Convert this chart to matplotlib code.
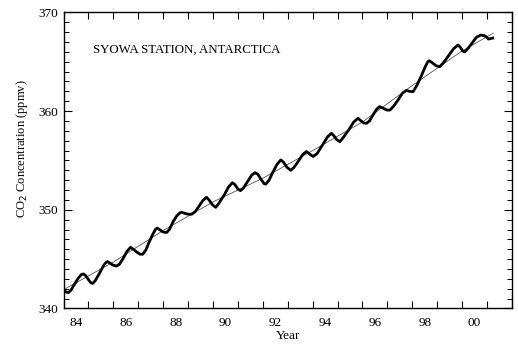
import numpy as np
import matplotlib
matplotlib.use("Agg")
import matplotlib.pyplot as plt
from matplotlib.ticker import MultipleLocator, FixedLocator

plt.rcParams['font.family'] = ['Liberation Serif', 'DejaVu Serif']

# record (decimal year, ppmv)
years = [1984.00, 1984.08, 1984.19, 1984.30, 1984.45, 1984.60, 1984.72, 1984.80,
         1984.90, 1985.02, 1985.10, 1985.17, 1985.27, 1985.45, 1985.62, 1985.72,
         1985.77, 1985.86, 1985.98, 1986.13, 1986.25, 1986.40, 1986.55, 1986.69,
         1986.80, 1986.95, 1987.07, 1987.18, 1987.30, 1987.45, 1987.60, 1987.70,
         1987.76, 1987.85, 1988.00, 1988.14, 1988.25, 1988.40, 1988.55, 1988.68,
         1988.74, 1988.85, 1989.00, 1989.14, 1989.28, 1989.42, 1989.58, 1989.74,
         1989.84, 1989.98, 1990.11, 1990.22, 1990.45, 1990.62, 1990.78, 1990.88,
         1991.00, 1991.10, 1991.22, 1991.40, 1991.55, 1991.68, 1991.80, 1991.95,
         1992.05, 1992.12, 1992.25, 1992.40, 1992.57, 1992.72, 1992.82, 1992.97,
         1993.12, 1993.25, 1993.42, 1993.60, 1993.75, 1993.88, 1994.02, 1994.18,
         1994.40, 1994.60, 1994.75, 1994.85, 1994.97, 1995.09, 1995.22, 1995.45,
         1995.65, 1995.82, 1995.92, 1996.05, 1996.16, 1996.28, 1996.42, 1996.57,
         1996.69, 1996.82, 1996.98, 1997.10, 1997.25, 1997.42, 1997.60, 1997.76,
         1997.88, 1998.03, 1998.18, 1998.35, 1998.52, 1998.62, 1998.68, 1998.80,
         1998.95, 1999.10, 1999.25, 1999.45, 1999.65, 1999.83, 1999.93, 2000.02,
         2000.10, 2000.22, 2000.40, 2000.58, 2000.75, 2000.88, 2000.98, 2001.05,
         2001.15, 2001.23]
co2 = [342.0, 341.7, 341.6, 341.85, 342.5, 343.1, 343.45, 343.5,
       343.3, 342.85, 342.6, 342.55, 342.8, 343.6, 344.4, 344.7,
       344.75, 344.6, 344.4, 344.3, 344.5, 345.1, 345.8, 346.2,
       346.0, 345.7, 345.5, 345.5, 345.9, 346.8, 347.6, 348.05,
       348.15, 348.0, 347.75, 347.7, 348.0, 348.8, 349.4, 349.7,
       349.75, 349.65, 349.55, 349.55, 349.8, 350.3, 350.9, 351.27,
       351.0, 350.5, 350.25, 350.6, 351.5, 352.3, 352.75, 352.55,
       352.1, 351.94, 352.2, 352.9, 353.5, 353.76, 353.6, 353.0,
       352.65, 352.6, 353.0, 353.8, 354.6, 355.05, 354.85, 354.3,
       354.0, 354.3, 354.9, 355.6, 355.9, 355.65, 355.4, 355.7,
       356.6, 357.4, 357.75, 357.5, 357.1, 356.9, 357.3, 358.1,
       358.9, 359.27, 359.05, 358.8, 358.76, 359.0, 359.6, 360.2,
       360.45, 360.3, 360.1, 360.1, 360.5, 361.1, 361.8, 362.1,
       362.0, 361.97, 362.6, 363.5, 364.5, 365.0, 365.1, 364.9,
       364.6, 364.5, 364.9, 365.6, 366.3, 366.7, 366.45, 366.1,
       366.0, 366.3, 366.9, 367.5, 367.7, 367.65, 367.5, 367.3,
       367.35, 367.4]

# smoothed trend line
trend_years = [1984.0, 1986.0, 1988.0, 1990.0, 1992.0, 1994.0, 1996.0, 1998.0, 2000.0, 2001.25]
trend_co2 = [341.9, 344.7, 347.9, 350.8, 353.2, 356.0, 358.9, 362.6, 366.1, 367.9]

year_labels = ['84', '86', '88', '90', '92', '94', '96', '98', '00']
label_pos = [1984.5, 1986.5, 1988.5, 1990.5, 1992.5, 1994.5, 1996.5, 1998.5, 2000.5]

fig = plt.figure(figsize=(5.18, 3.46), dpi=100)
ax = fig.add_axes([0.1226, 0.1084, 0.8658, 0.8558])

ax.plot(trend_years, trend_co2, color='#555555', lw=0.6)
ax.plot(years, co2, color='black', lw=2.0, solid_joinstyle='round')

ax.set_xlim(1984, 2002)
ax.set_ylim(340, 370)

# x: ticks at year boundaries, labels centred in the year
ax.xaxis.set_major_locator(FixedLocator(label_pos))
ax.set_xticklabels(year_labels)
ax.xaxis.set_minor_locator(MultipleLocator(1))
ax.tick_params(axis='x', which='major', length=0, pad=6, labelsize=9.5)
ax.tick_params(axis='x', which='minor', length=5, width=0.8, direction='in',
               top=True, bottom=True)

ax.yaxis.set_major_locator(MultipleLocator(10))
ax.yaxis.set_minor_locator(MultipleLocator(1))
ax.tick_params(axis='y', which='major', length=6, width=0.8, direction='in',
               left=True, right=True, labelsize=9.5, pad=4)
ax.tick_params(axis='y', which='minor', length=3.5, width=0.7, direction='in',
               left=True, right=True)

for s in ax.spines.values():
    s.set_linewidth(1.0)

ax.set_xlabel('Year', fontsize=9.5, labelpad=1)
ax.set_ylabel('CO$_2$ Concentration (ppmv)', fontsize=9)
ax.yaxis.set_label_coords(-0.075, 0.54)

ax.text(0.066, 0.873, 'SYOWA STATION, ANTARCTICA', transform=ax.transAxes,
        fontsize=9.3, va='center', ha='left')

fig.savefig('out.png', dpi=100)
